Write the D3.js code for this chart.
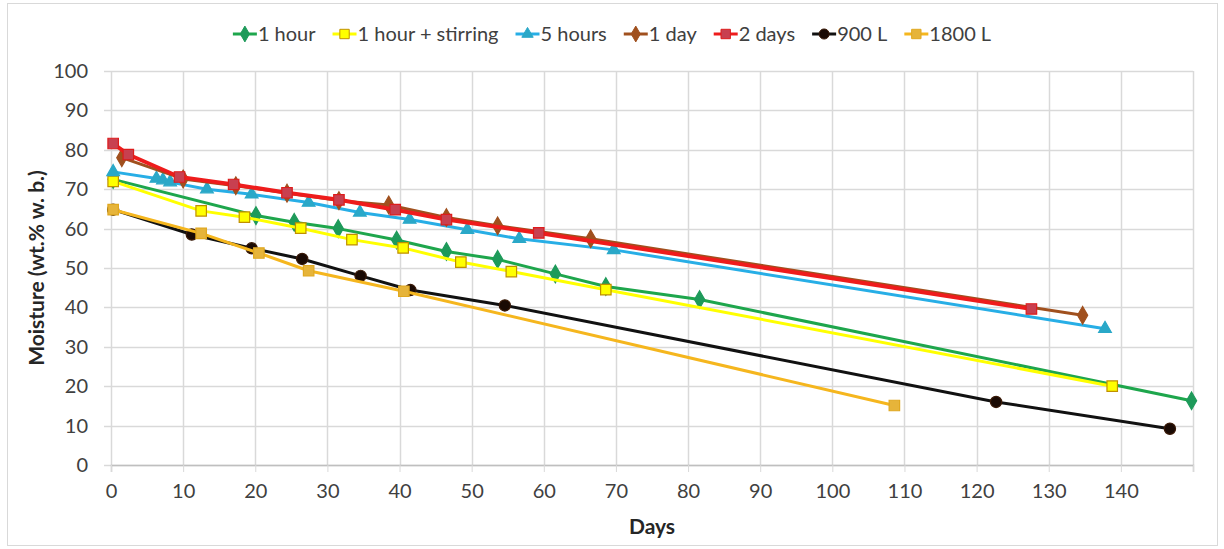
<!DOCTYPE html>
<html>
<head>
<meta charset="utf-8">
<script src="https://cdn.jsdelivr.net/npm/d3@7"></script>
<style>
  body { margin: 0; background: #fff; }
  svg { display: block; font-family: Lato, "Liberation Sans", sans-serif; }
</style>
</head>
<body>
<div id="chart"></div>
<script>
// series data: [day, moisture]
const oneHour = [[0.3, 72.5], [20.1, 63.3], [25.4, 61.6], [31.5, 60.0], [39.6, 57.1], [46.5, 54.2], [53.6, 52.2], [61.6, 48.5], [68.6, 45.3], [81.6, 42.0], [149.8, 16.3]];
const oneHourStirring = [[0.3, 72.0], [12.5, 64.5], [18.5, 62.9], [26.3, 60.1], [33.4, 57.2], [40.5, 55.1], [48.5, 51.5], [55.5, 49.1], [68.6, 44.5], [138.8, 20.0]];
const fiveHours = [[0.3, 74.4], [6.3, 72.7], [7.2, 72.3], [8.2, 71.8], [13.3, 70.0], [19.5, 68.7], [27.4, 66.6], [34.5, 64.1], [41.4, 62.3], [49.4, 59.7], [56.6, 57.4], [69.7, 54.6], [137.8, 34.6]];
const oneDay = [[1.5, 78.0], [10, 72.6], [17.3, 70.9], [24.4, 69.0], [31.6, 67.1], [38.5, 66.0], [46.5, 62.8], [53.6, 60.7], [66.5, 57.4], [134.7, 38.0]];
const twoDays = [[0.3, 81.6], [2.4, 78.8], [9.5, 73.1], [17, 71.2], [24.4, 69.1], [31.6, 67.3], [39.4, 64.8], [46.5, 62.3], [59.3, 58.9], [127.6, 39.6]];
const l900 = [[0.3, 64.8], [11.2, 58.5], [19.5, 55.0], [26.5, 52.3], [34.6, 48.0], [41.5, 44.4], [54.6, 40.5], [122.7, 16.0], [146.8, 9.2]];
const l1800 = [[0.3, 64.8], [12.5, 58.8], [20.5, 53.8], [27.4, 49.3], [40.6, 44.1], [108.6, 15.1]];

const seriesNames = ["1 hour", "1 hour + stirring", "5 hours", "1 day", "2 days", "900 L", "1800 L"];
const xTicks = [0, 10, 20, 30, 40, 50, 60, 70, 80, 90, 100, 110, 120, 130, 140];
const yTicks = [0, 10, 20, 30, 40, 50, 60, 70, 80, 90, 100];

const series = [
  { name: seriesNames[0], data: oneHour, line: "#1ea64c", fill: "#1e9a5a", stroke: "#1e9a5a", shape: "diamond", lw: 3 },
  { name: seriesNames[1], data: oneHourStirring, line: "#ffff00", fill: "#ffff00", stroke: "#c09000", shape: "square", lw: 3 },
  { name: seriesNames[2], data: fiveHours, line: "#27aee6", fill: "#2aa8c8", stroke: "#2aa8c8", shape: "triangle", lw: 3 },
  { name: seriesNames[3], data: oneDay, line: "#a0501e", fill: "#a0501e", stroke: "#a0501e", shape: "diamond", lw: 3 },
  { name: seriesNames[4], data: twoDays, line: "#ee1c1c", fill: "#c84050", stroke: "#dd1c1c", shape: "square", lw: 4 },
  { name: seriesNames[5], data: l900, line: "#111111", fill: "#1a0a04", stroke: "#3a1a08", shape: "circle", lw: 3 },
  { name: seriesNames[6], data: l1800, line: "#f5b61e", fill: "#e6b43a", stroke: "#e0a820", shape: "square", lw: 3 }
];

const W = 1224, H = 549;
const plot = { left: 111, right: 1193, top: 71, bottom: 465 };

const svg = d3.select("#chart").append("svg").attr("width", W).attr("height", H);

// outer border
svg.append("rect").attr("x", 7.5).attr("y", 3.5).attr("width", 1210).attr("height", 542)
  .attr("fill", "none").attr("stroke", "#d9d9d9");

const x = d3.scaleLinear().domain([0, 150]).range([plot.left, plot.right]);
const y = d3.scaleLinear().domain([0, 100]).range([plot.bottom, plot.top]);

// gridlines
const grid = svg.append("g");
grid.selectAll("line.v").data(xTicks.concat([150])).join("line")
  .attr("x1", d => Math.round(x(d)) + 0.5).attr("x2", d => Math.round(x(d)) + 0.5)
  .attr("y1", plot.top).attr("y2", plot.bottom)
  .attr("stroke", "#d9d9d9").attr("stroke-width", 1.5);
grid.selectAll("line.h").data(yTicks).join("line")
  .attr("x1", plot.left - 7).attr("x2", plot.right)
  .attr("y1", d => Math.round(y(d)) + 0.5).attr("y2", d => Math.round(y(d)) + 0.5)
  .attr("stroke", "#d9d9d9").attr("stroke-width", 1.5);

// x axis
const xAxis = svg.append("g").attr("transform", `translate(0,${plot.bottom})`)
  .call(d3.axisBottom(x).tickValues(xTicks.concat([150])).tickSize(7)
    .tickFormat(d => d === 150 ? "" : d));
xAxis.select(".domain").attr("stroke", "#bfbfbf").attr("stroke-width", 1.5);
xAxis.selectAll(".tick line").attr("stroke", "#d9d9d9");
xAxis.selectAll("text").attr("font-size", 20).attr("fill", "#404040")
  .attr("font-family", "Lato, sans-serif").attr("dy", "1.15em");

// y axis labels
const yAxis = svg.append("g").attr("transform", `translate(${plot.left},0)`)
  .call(d3.axisLeft(y).tickValues(yTicks).tickSize(0).tickPadding(23));
yAxis.select(".domain").remove();
yAxis.selectAll("text").attr("font-size", 20).attr("fill", "#404040")
  .attr("font-family", "Lato, sans-serif");

// axis titles
svg.append("text").attr("x", x(75)).attr("y", 534).attr("text-anchor", "middle")
  .attr("font-size", 21).attr("font-weight", "bold").attr("fill", "#262626").text("Days");
svg.append("text").attr("transform", `translate(44,${y(50)}) rotate(-90)`)
  .attr("text-anchor", "middle").attr("font-size", 21).attr("font-weight", "bold")
  .attr("fill", "#262626").text("Moisture (wt.% w. b.)");

const symbolFor = {
  diamond: d3.symbolDiamond, square: d3.symbolSquare,
  triangle: d3.symbolTriangle, circle: d3.symbolCircle
};
const sizeFor = { diamond: 90, square: 110, triangle: 70, circle: 100 };

const line = d3.line().x(d => x(d[0])).y(d => y(d[1]));

// lines then markers per series
series.forEach(s => {
  const g = svg.append("g");
  g.append("path").datum(s.data).attr("d", line)
    .attr("fill", "none").attr("stroke", s.line).attr("stroke-width", s.lw)
    .attr("stroke-linejoin", "round").attr("stroke-linecap", "round");
  g.selectAll("path.m").data(s.data).join("path").attr("class", "m")
    .attr("transform", d => `translate(${x(d[0])},${y(d[1])})`)
    .attr("d", d3.symbol().type(symbolFor[s.shape]).size(sizeFor[s.shape]))
    .attr("fill", s.fill).attr("stroke", s.stroke).attr("stroke-width", 1.2);
});

// legend
const legend = svg.append("g").attr("transform", "translate(0,34)");
const items = [];
series.forEach(s => {
  const it = legend.append("g");
  it.append("line").attr("x1", 0).attr("x2", 24).attr("y1", 0).attr("y2", 0)
    .attr("stroke", s.line).attr("stroke-width", 3);
  it.append("path").attr("transform", "translate(12,0)")
    .attr("d", d3.symbol().type(symbolFor[s.shape]).size(sizeFor[s.shape] * 0.8))
    .attr("fill", s.fill).attr("stroke", s.stroke).attr("stroke-width", 1);
  const t = it.append("text").attr("x", 25).attr("y", 7).attr("font-size", 20)
    .attr("fill", "#404040").text(s.name);
  const w = 25 + t.node().getComputedTextLength();
  items.push({ it, w });
});
const gap = 17;
const total = d3.sum(items, d => d.w) + gap * (items.length - 1);
let lx = 612 - total / 2;
items.forEach(d => {
  d.it.attr("transform", `translate(${lx},0)`);
  lx += d.w + gap;
});
</script>
</body>
</html>
